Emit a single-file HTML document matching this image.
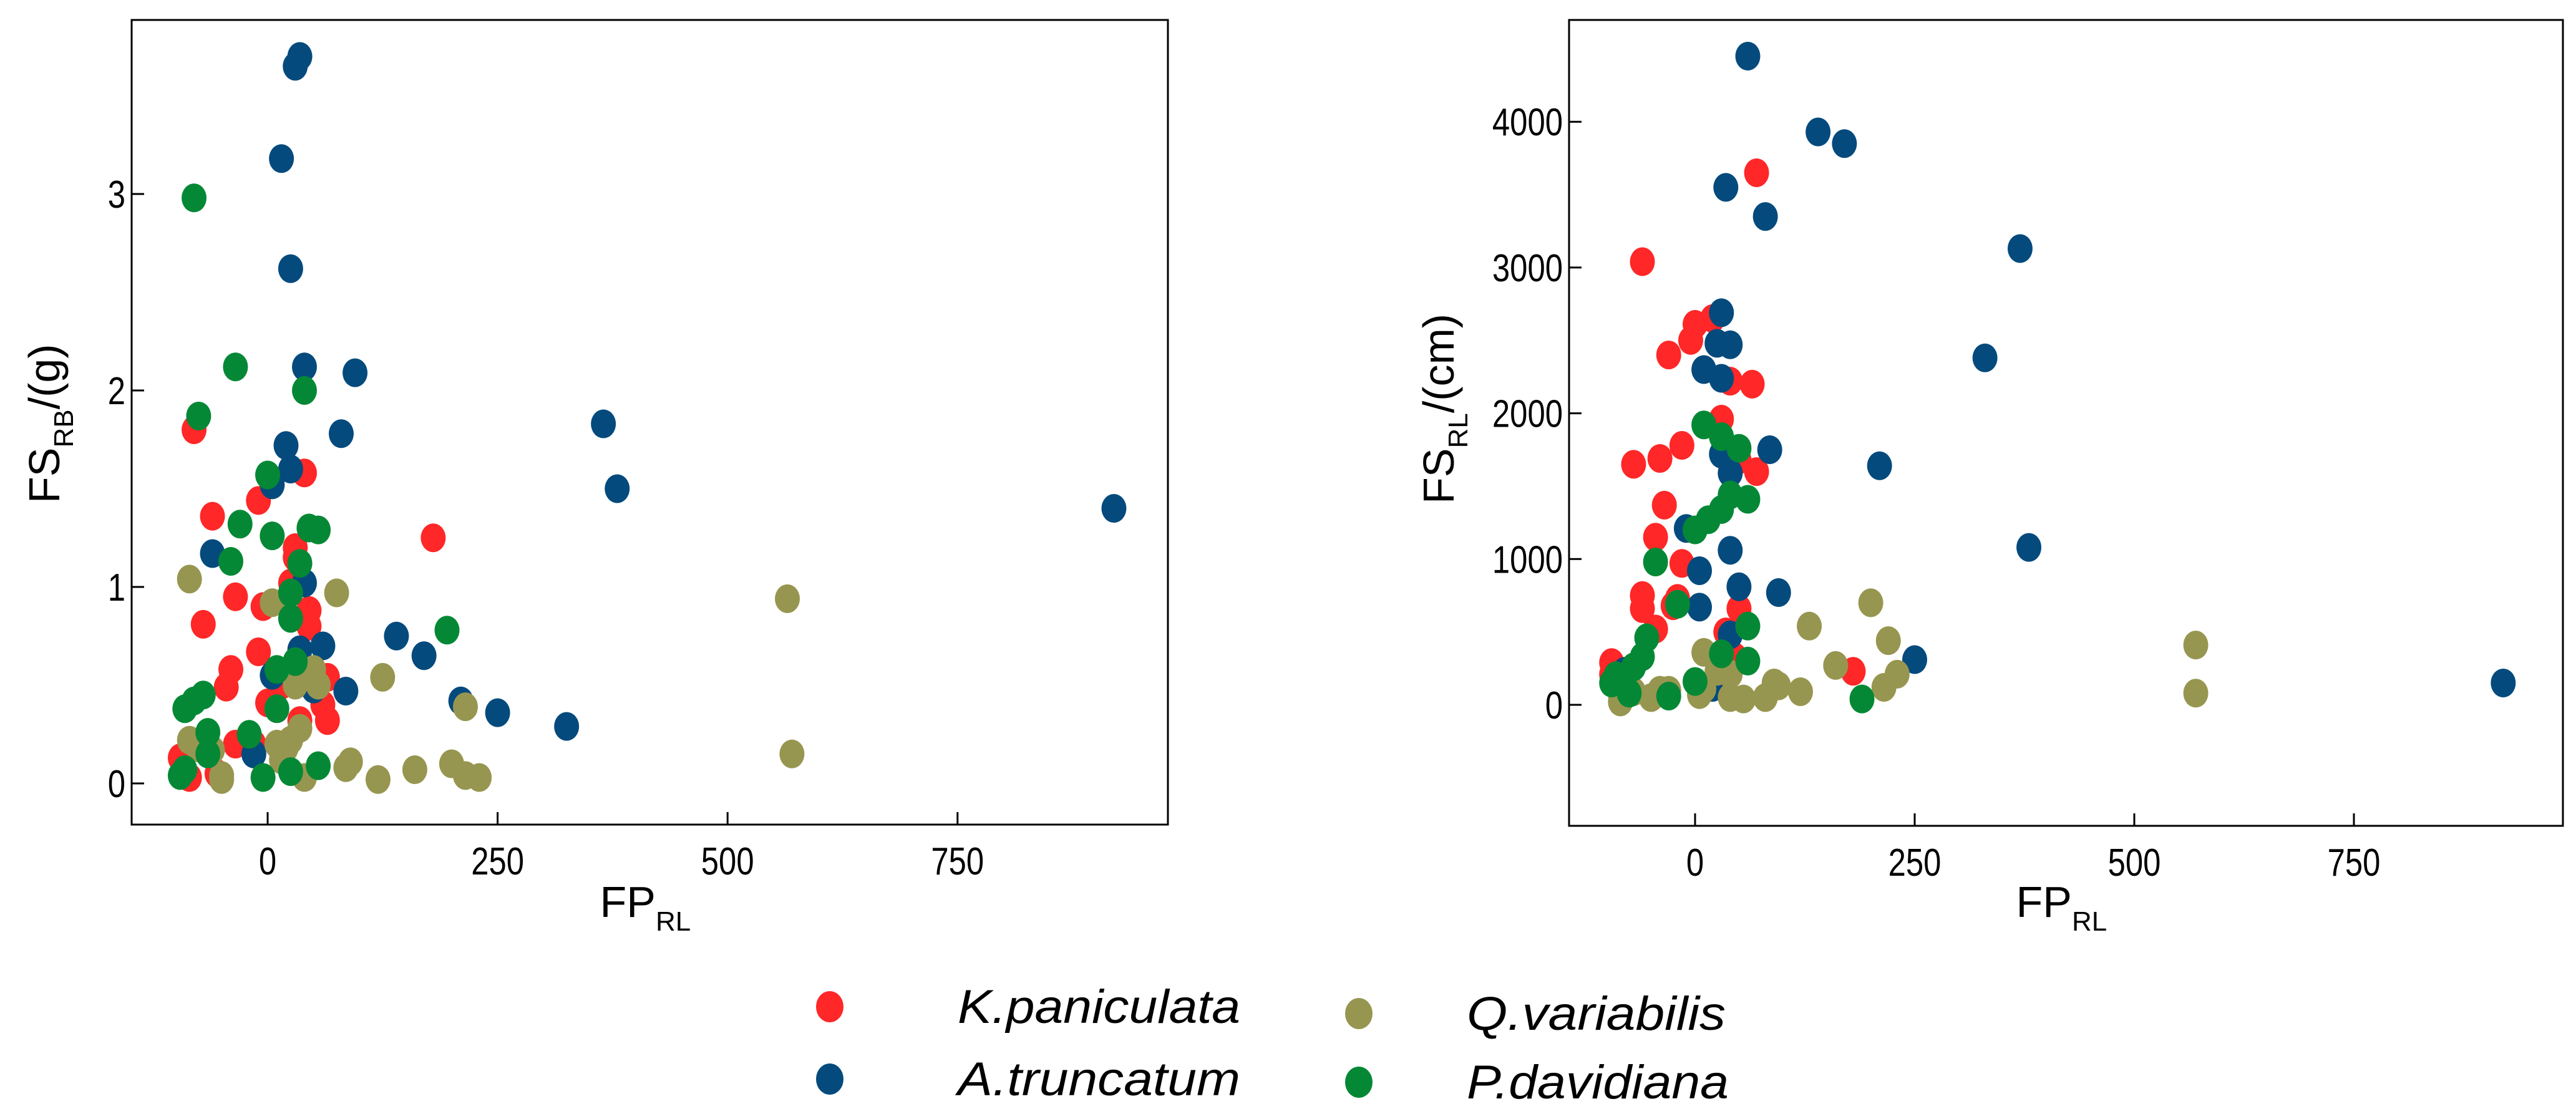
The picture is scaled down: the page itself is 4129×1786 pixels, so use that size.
<!DOCTYPE html>
<html><head><meta charset="utf-8"><style>
html,body{margin:0;padding:0;background:#fff;}
svg{display:block;font-family:"Liberation Sans",sans-serif;}
</style></head><body>
<svg id="chart" width="4129" height="1786" viewBox="0 0 4129 1786" xmlns="http://www.w3.org/2000/svg">
<rect width="4129" height="1786" fill="#fff"/>
<g id="left"></g>
<g id="right"></g>
<g id="legend"></g>
</svg>
<script>
const seriesNames = ["K.paniculata","A.truncatum","Q.variabilis","P.davidiana"];
const seriesColors = ["#ff2727","#044a7d","#979650","#058835"];
const xTicks = [0,250,500,750];
const leftYTicks = [0,1,2,3];
const rightYTicks = [0,1000,2000,3000,4000];

// Left panel: FP_RL vs FS_RB
const leftRedX = [-80,40,-10,-60,180,30,30,25,-35,-5,45,45,-70,-10,-40,-45,15,65,0,60,65,35,-35,-95,-90,-85,-55,-15];
const leftRedY = [1.8,1.58,1.44,1.36,1.25,1.2,1.15,1.02,0.95,0.9,0.88,0.8,0.81,0.67,0.58,0.49,0.5,0.54,0.41,0.4,0.32,0.32,0.2,0.13,0.05,0.03,0.05,0.2];
const leftBlueX = [35,30,15,25,40,95,80,365,380,920,20,25,5,-60,40,140,170,60,35,85,50,210,250,325,5,-15,30];
const leftBlueY = [3.7,3.65,3.18,2.62,2.12,2.09,1.78,1.83,1.5,1.4,1.72,1.6,1.52,1.17,1.02,0.75,0.65,0.7,0.68,0.47,0.48,0.42,0.36,0.29,0.55,0.15,0.6];
const leftOliveX = [-85,75,5,565,125,50,55,215,-85,-75,-60,10,20,35,-50,-50,40,570,90,85,120,160,200,215,230,15,25,30];
const leftOliveY = [1.04,0.97,0.92,0.94,0.54,0.58,0.5,0.39,0.22,0.18,0.17,0.2,0.18,0.28,0.04,0.02,0.03,0.15,0.11,0.08,0.02,0.07,0.1,0.04,0.03,0.12,0.22,0.5];
const leftGreenX = [-80,-35,40,-75,0,45,55,-30,5,-40,35,25,25,195,10,10,-90,-80,-70,-65,-20,-65,-90,-95,55,-5,25,30];
const leftGreenY = [2.98,2.12,2.0,1.87,1.57,1.3,1.29,1.32,1.26,1.13,1.12,0.97,0.84,0.78,0.58,0.38,0.38,0.42,0.45,0.26,0.25,0.15,0.07,0.04,0.09,0.03,0.06,0.62];

// Right panel: FP_RL vs FS_RL
const rightRedX = [70,-60,0,20,-5,-30,40,65,30,-15,-70,-40,50,70,-35,-45,-15,-60,-20,-60,-25,50,-45,35,45,180,-95,-95];
const rightRedY = [3650,3040,2610,2650,2500,2400,2220,2200,1960,1780,1650,1690,1680,1600,1370,1150,970,750,730,660,680,660,520,500,330,230,290,210];
const rightBlueX = [60,140,170,35,80,370,330,30,25,40,10,30,210,85,30,40,380,-10,40,5,50,95,5,250,920,40,20,-80];
const rightBlueY = [4450,3930,3850,3550,3350,3130,2380,2690,2480,2470,2300,2240,1640,1750,1720,1590,1080,1210,1060,920,810,770,670,310,150,480,120,230];
const rightOliveX = [200,130,220,570,570,160,230,215,90,95,120,80,55,40,10,40,10,5,-40,-50,-70,-85,-85,-30,25];
const rightOliveY = [700,540,440,410,80,270,210,120,150,130,90,50,40,50,360,210,110,70,100,50,90,70,20,100,230];
const rightGreenX = [10,30,50,40,60,30,15,0,-45,-20,60,-55,-60,-70,-90,-95,60,30,0,190,-30,-75];
const rightGreenY = [1920,1840,1760,1440,1410,1340,1270,1200,980,690,540,460,330,260,200,150,300,350,160,40,60,80];

const NS="http://www.w3.org/2000/svg";
function mk(tag, attrs, parent, text){
  const e=document.createElementNS(NS,tag);
  for(const k in attrs) e.setAttribute(k,attrs[k]);
  if(text!==undefined) e.textContent=text;
  parent.appendChild(e); return e;
}

function panel(g, cfg){
  const {x0,x1,y0,y1,xZero,xPer250,yZero,yPerUnit,yTicks,ySeries,xSeries,yLabelSub,yLabelUnit,yLabelX} = cfg;
  const sx = v => xZero + v/250*xPer250;
  const sy = v => yZero - v*yPerUnit;
  const frame = mk('rect',{x:x0,y:y0,width:x1-x0,height:y1-y0,fill:'none',stroke:'#000','stroke-width':3},g);
  
  
  xTicks.forEach(t=>{
    const l=mk('line',{x1:sx(t),x2:sx(t),y1:y1,y2:y1-20,stroke:'#000','stroke-width':3},g);
    
    
    const tx=mk('text',{transform:`translate(${sx(t)},${y1+80}) scale(0.82,1)`,'font-size':62,'text-anchor':'middle',fill:'#000'},g,String(t));
    
    
  });
  yTicks.forEach(t=>{
    const l=mk('line',{x1:x0,x2:x0+20,y1:sy(t),y2:sy(t),stroke:'#000','stroke-width':3},g);
    
    
    const tx=mk('text',{transform:`translate(${x0-10},${sy(t)+22}) scale(0.82,1)`,'font-size':62,'text-anchor':'end',fill:'#000'},g,String(t));
    
    
  });
  const xt=mk('text',{x:(x0+x1)/2-80,y:1470,'font-size':70,fill:'#000'},g);
  
  
  mk('tspan',{},xt,'FP');
  mk('tspan',{dy:22,'font-size':44},xt,'RL');
  const yt=mk('text',{transform:`translate(${yLabelX},${(y0+y1)/2+130}) rotate(-90)`,'font-size':70,fill:'#000'},g);
  
  
  mk('tspan',{},yt,'FS');
  mk('tspan',{dy:22,'font-size':44},yt,yLabelSub);
  mk('tspan',{dy:-22},yt,yLabelUnit);
  [0,1,2,3].forEach(s=>{
    const xs=xSeries[s], ys=ySeries[s];
    const sg=mk('g',{},g);
    
    
    xs.forEach((v,i)=>{
      const c=mk('ellipse',{cx:sx(v),cy:sy(ys[i]),rx:20,ry:23,fill:seriesColors[s]},sg);
      
      
    });
  });
}

panel(document.getElementById('left'),{
  x0:211,x1:1872,y0:32,y1:1322,xZero:429,xPer250:368.6,yZero:1256,yPerUnit:315,
  yTicks:leftYTicks,
  xSeries:[leftRedX,leftBlueX,leftOliveX,leftGreenX],
  ySeries:[leftRedY,leftBlueY,leftOliveY,leftGreenY],
  yLabelSub:'RB',yLabelUnit:'/(g)',yLabelX:95
});
panel(document.getElementById('right'),{
  x0:2515,x1:4108,y0:32,y1:1324,xZero:2717,xPer250:352,yZero:1130,yPerUnit:0.2337,
  yTicks:rightYTicks,
  xSeries:[rightRedX,rightBlueX,rightOliveX,rightGreenX],
  ySeries:[rightRedY,rightBlueY,rightOliveY,rightGreenY],
  yLabelSub:'RL',yLabelUnit:'/(cm)',yLabelX:2330
});

const lg=document.getElementById('legend');
const legPos=[[1330,1614,1535,453],[1330,1730,1535,453],[2178,1625,2351,415],[2178,1735,2351,420]];
[0,1,2,3].forEach(s=>{
  const [cx,cy,tx,tw]=legPos[s];
  const gg=mk('g',{},lg);
  
  
  mk('ellipse',{cx:cx,cy:cy,rx:22,ry:25,fill:seriesColors[s]},gg);
  mk('text',{x:tx,y:cy+26,'font-size':76,'font-style':'italic',fill:'#000',textLength:tw,lengthAdjust:'spacingAndGlyphs'},gg,seriesNames[s]);
});
</script>
</body></html>
